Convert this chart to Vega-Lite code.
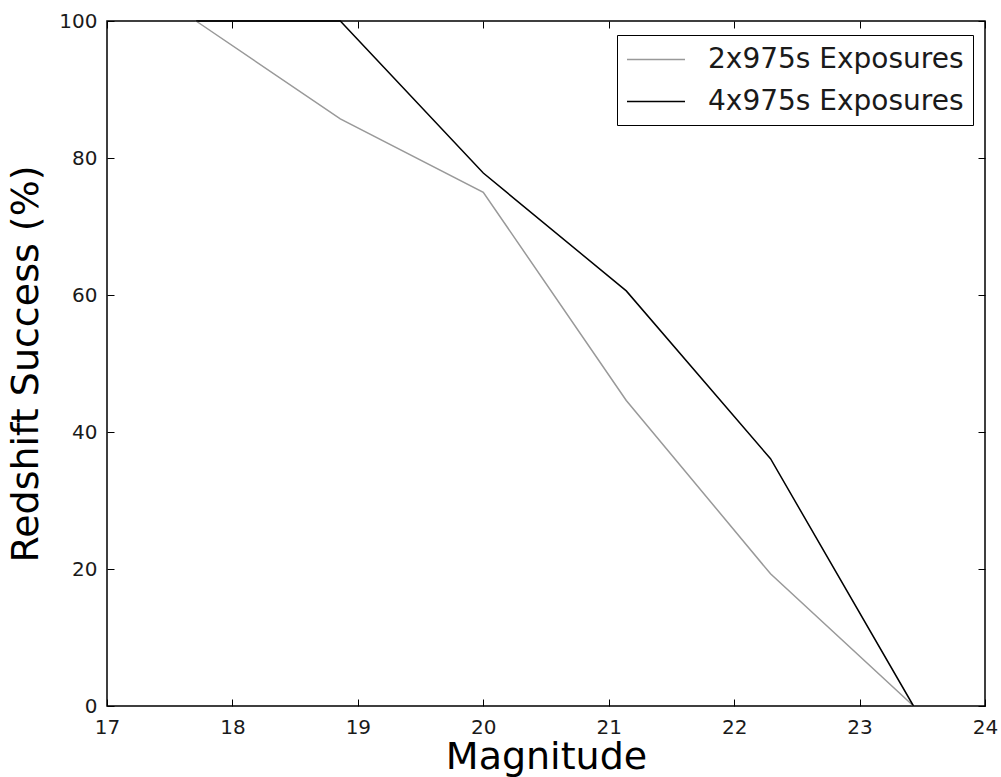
{
  "$schema": "https://vega.github.io/schema/vega-lite/v6.json",
  "width": 878,
  "height": 685,
  "autosize": {"type": "none"},
  "padding": {"left": 107, "top": 21, "right": 16, "bottom": 71},
  "background": "white",
  "config": {
    "font": "DejaVu Sans",
    "view": {"stroke": "#000000", "strokeWidth": 1.5},
    "axis": {
      "domain": false,
      "grid": false,
      "ticks": true,
      "tickColor": "#000000",
      "tickWidth": 1,
      "tickSize": -7,
      "labelColor": "#1a1a1a",
      "labelFontSize": 20,
      "labelFlush": false,
      "labelOverlap": false,
      "titleColor": "#000000",
      "titleFontSize": 38,
      "titleFontWeight": "normal"
    }
  },
  "data": {
    "values": [
      {"series": "2x975s Exposures", "magnitude": 17.71, "success": 100},
      {"series": "2x975s Exposures", "magnitude": 18.86, "success": 85.7},
      {"series": "2x975s Exposures", "magnitude": 20.0, "success": 75.0},
      {"series": "2x975s Exposures", "magnitude": 21.14, "success": 44.6},
      {"series": "2x975s Exposures", "magnitude": 22.29, "success": 19.3},
      {"series": "2x975s Exposures", "magnitude": 23.43, "success": 0},
      {"series": "4x975s Exposures", "magnitude": 17.71, "success": 100},
      {"series": "4x975s Exposures", "magnitude": 18.86, "success": 100},
      {"series": "4x975s Exposures", "magnitude": 20.0, "success": 77.8},
      {"series": "4x975s Exposures", "magnitude": 21.14, "success": 60.6},
      {"series": "4x975s Exposures", "magnitude": 22.29, "success": 36.1},
      {"series": "4x975s Exposures", "magnitude": 23.43, "success": 0}
    ]
  },
  "layer": [
    {
      "mark": {"type": "line", "strokeWidth": 1.5},
      "encoding": {
        "x": {
          "field": "magnitude",
          "type": "quantitative",
          "scale": {"domain": [17, 24], "nice": false, "zero": false},
          "axis": {"orient": "bottom", "values": [17, 18, 19, 20, 21, 22, 23, 24], "labelPadding": 18, "title": "Magnitude", "titlePadding": 1}
        },
        "y": {
          "field": "success",
          "type": "quantitative",
          "scale": {"domain": [0, 100], "nice": false},
          "axis": {"orient": "left", "values": [0, 20, 40, 60, 80, 100], "labelPadding": 17, "title": "Redshift Success (%)", "titlePadding": 13}
        },
        "color": {
          "field": "series",
          "type": "nominal",
          "scale": {"domain": ["2x975s Exposures", "4x975s Exposures"], "range": ["#999999", "#000000"]},
          "legend": {
            "title": null,
            "orient": "none",
            "legendX": 510,
            "legendY": 14,
            "padding": 9,
            "strokeColor": "#000000",
            "fillColor": "#ffffff",
            "labelFontSize": 28,
            "labelColor": "#1a1a1a",
            "labelLimit": 400,
            "labelOffset": 51,
            "rowPadding": 12,
            "symbolType": "M-1,0H3",
            "symbolSize": 841,
            "symbolStrokeWidth": 1.5
          }
        }
      }
    },
    {
      "mark": {"type": "line", "opacity": 0},
      "encoding": {
        "x": {
          "field": "magnitude",
          "type": "quantitative",
          "axis": {"orient": "top", "values": [17, 18, 19, 20, 21, 22, 23, 24], "labels": false, "title": null}
        },
        "y": {
          "field": "success",
          "type": "quantitative",
          "axis": {"orient": "right", "values": [0, 20, 40, 60, 80, 100], "labels": false, "title": null}
        },
        "detail": {"field": "series", "type": "nominal"}
      }
    }
  ]
}
